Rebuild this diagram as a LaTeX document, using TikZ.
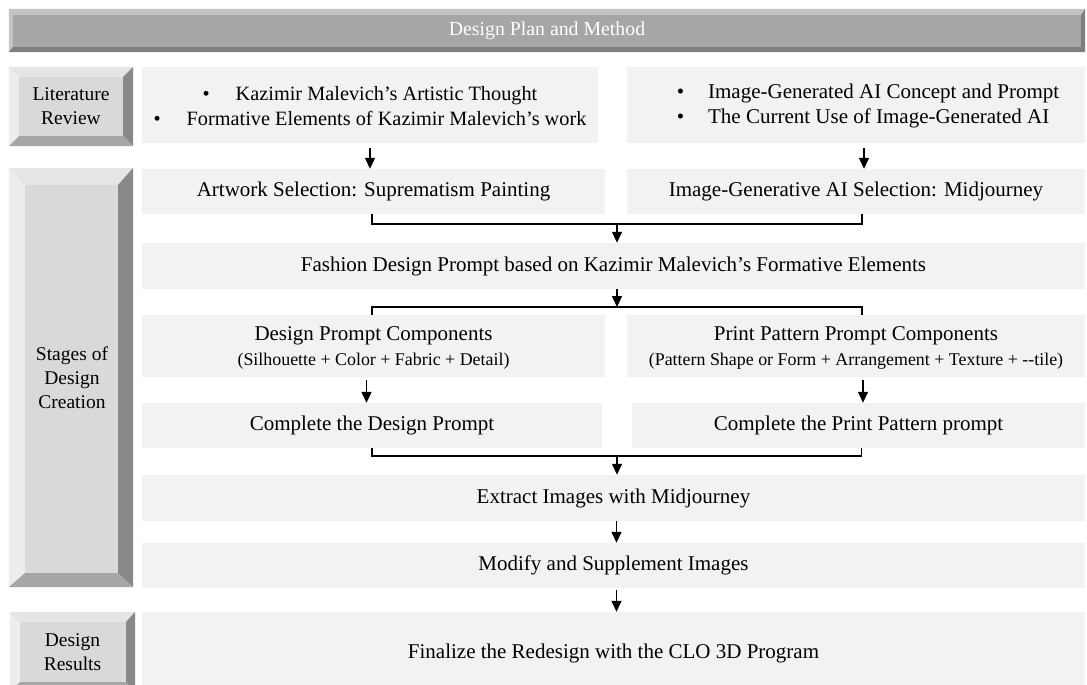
\documentclass[tikz,border=0pt]{standalone}
\usepackage{fontspec}
\setmainfont{Liberation Serif}
\usetikzlibrary{arrows.meta,fit}
\definecolor{contC}{HTML}{F2F2F2}
\definecolor{faceC}{HTML}{D9D9D9}
\definecolor{bvLeft}{HTML}{EDEDED}
\definecolor{bvTop}{HTML}{E5E5E5}
\definecolor{bvRight}{HTML}{888888}
\definecolor{bvBot}{HTML}{A6A6A6}
\definecolor{titleC}{HTML}{A6A6A6}
\definecolor{titleTop}{HTML}{C4C4C4}
\definecolor{titleBot}{HTML}{7F7F7F}
\newcommand\mainsz{\fontsize{21}{25}\selectfont}
\newcommand\litsz{\fontsize{20.3}{25}\selectfont}
\newcommand\subsz{\fontsize{17.9}{22}\selectfont}
\newcommand\lblsz{\fontsize{19.5}{24}\selectfont}
% #1 node, #2 left, #3 top, #4 right, #5 bottom, #6 left col, #7 top col, #8 right col, #9 bottom col
\newcommand\bevframe[9]{%
  \fill[#6] (#1.north west) -- ([shift={(#2,#3)}]#1.north west) -- ([shift={(#2,-#5)}]#1.south west) -- (#1.south west) -- cycle;
  \fill[#7] (#1.north west) -- (#1.north east) -- ([shift={(-#4,#3)}]#1.north east) -- ([shift={(#2,#3)}]#1.north west) -- cycle;
  \fill[#8] (#1.north east) -- (#1.south east) -- ([shift={(-#4,-#5)}]#1.south east) -- ([shift={(-#4,#3)}]#1.north east) -- cycle;
  \fill[#9] (#1.south west) -- (#1.south east) -- ([shift={(-#4,-#5)}]#1.south east) -- ([shift={(#2,-#5)}]#1.south west) -- cycle;
}
\begin{document}
\begin{tikzpicture}[x=1pt,y=-1pt,
  cbox/.style={inner sep=0pt, fill=contC, font=\mainsz, align=center},
  lblbox/.style={inner sep=0pt, fill=faceC, font=\lblsz, align=center},
  conn/.style={draw=black, line width=1.3pt},
  arr/.style={conn, -{Triangle[length=11pt,width=10pt]}},
]
\useasboundingbox (0,0) rectangle (1087,685);
\clip (0,0) rectangle (1087,685);

% title bar
\node[inner sep=0pt, fill=titleC, fit={(9,9)(1085,52)}] (title) {};
\bevframe{title}{4}{6}{4}{5}{titleTop}{titleTop}{titleBot}{titleBot}
\node[text=white, font=\fontsize{19.8}{23}\selectfont] at (title.center) {Design Plan and Method};

% left labels
\node[lblbox, fit={(9,67)(133,146)}] (lit) {};
\bevframe{lit}{10}{10}{10}{10}{bvLeft}{bvTop}{bvRight}{bvBot}
\node[font=\lblsz, align=center] at (lit.center) {Literature\\Review};

\node[lblbox, fit={(9,168)(133,587)}] (stg) {};
\bevframe{stg}{16}{17}{15}{14}{bvLeft}{bvTop}{bvRight}{bvBot}
\node[font=\lblsz, align=center] at ([xshift=1]stg.center) {Stages of\\Design\\Creation};

\node[lblbox, fit={(10,612)(135,692)}] (res) {};
\bevframe{res}{10}{10}{9}{10}{bvLeft}{bvTop}{bvRight}{bvBot}
\node[font=\lblsz, align=center] at (res.center) {Design\\Results};

% content boxes
\node[cbox, fit={(142,67)(598,143)}] (litL) {};
\node[font=\litsz, align=center] at ([shift={(0,1)}]litL.center) {\textbullet\hspace{26pt}Kazimir Malevich’s Artistic Thought\\\textbullet\hspace{26pt}Formative Elements of Kazimir Malevich’s work};
\node[cbox, fit={(627,67)(1085,143)}] (litR) {};
\node[font=\mainsz, align=left] at ([shift={(12,1)}]litR.center) {\textbullet\hspace{24pt}Image-Generated AI Concept and Prompt\\\textbullet\hspace{24pt}The Current Use of Image-Generated AI};

\node[cbox, fit={(142,169)(605,214)}] (art) {};
\node[font=\mainsz] at (art.center) {Artwork Selection: Suprematism Painting};
\node[cbox, fit={(627,169)(1085,214)}] (aig) {};
\node[font=\mainsz] at (aig.center) {Image-Generative AI Selection: Midjourney};

\node[cbox, fit={(142,243)(1085,289)}] (fash) {};
\node[font=\mainsz] at (fash.center) {Fashion Design Prompt based on Kazimir Malevich’s Formative Elements};

\node[cbox, fit={(142,315)(605,377)}] (dpc) {};
\node[align=center] at ([shift={(0,2)}]dpc.center) {{\mainsz Design Prompt Components}\\[7pt]{\subsz (Silhouette + Color + Fabric + Detail)}};
\node[cbox, fit={(627,315)(1085,377)}] (ppc) {};
\node[align=center] at ([shift={(0,2)}]ppc.center) {{\mainsz Print Pattern Prompt Components}\\[7pt]{\subsz (Pattern Shape or Form + Arrangement + Texture + -{}-tile)}};

\node[cbox, fit={(142,403)(602,448)}] (cdp) {};
\node[font=\mainsz] at (cdp.center) {Complete the Design Prompt};
\node[cbox, fit={(632,403)(1085,448)}] (cpp) {};
\node[font=\mainsz] at (cpp.center) {Complete the Print Pattern prompt};

\node[cbox, fit={(142,475)(1085,521)}] (ext) {};
\node[font=\mainsz] at (ext.center) {Extract Images with Midjourney};
\node[cbox, fit={(142,543)(1085,588)}] (mod) {};
\node[font=\mainsz] at (mod.center) {Modify and Supplement Images};
\node[cbox, fit={(142,612)(1085,690)}] (fin) {};
\node[font=\mainsz] at ([shift={(0,2)}]fin.center) {Finalize the Redesign with the CLO 3D Program};

% connectors
\draw[arr, shorten <=5pt] (litL.south) -- (litL.south |- art.north);
\draw[arr, shorten <=5pt] ([xshift=8]litR.south) -- ([xshift=8]litR.south |- aig.north);

\coordinate (j1) at (617,224);
\draw[conn] ([xshift=-1.5]art.south) |- (j1) -| ([xshift=6]aig.south);
\draw[arr] (j1) -- (j1 |- fash.north);

\coordinate (j2) at (617,307);
\draw[arr] (fash.south -| j2) -- (j2);
\draw[conn] ([xshift=-1.5]dpc.north) |- (j2) -| ([xshift=6]ppc.north);

\draw[arr, shorten <=3pt] ([xshift=-7]dpc.south) -- ([xshift=-7]dpc.south |- cdp.north);
\draw[arr, shorten <=3pt] ([xshift=7]ppc.south) -- ([xshift=7]ppc.south |- cpp.north);

\coordinate (j3) at (617,456);
\draw[conn] (cdp.south) |- (j3) -| ([xshift=3]cpp.south);
\draw[arr] (j3) -- (j3 |- ext.north);

\draw[arr] ([xshift=3]ext.south) -- ([xshift=3]ext.south |- mod.north);
\draw[arr, shorten <=2pt] ([xshift=3]mod.south) -- ([xshift=3]mod.south |- fin.north);
\end{tikzpicture}
\end{document}
